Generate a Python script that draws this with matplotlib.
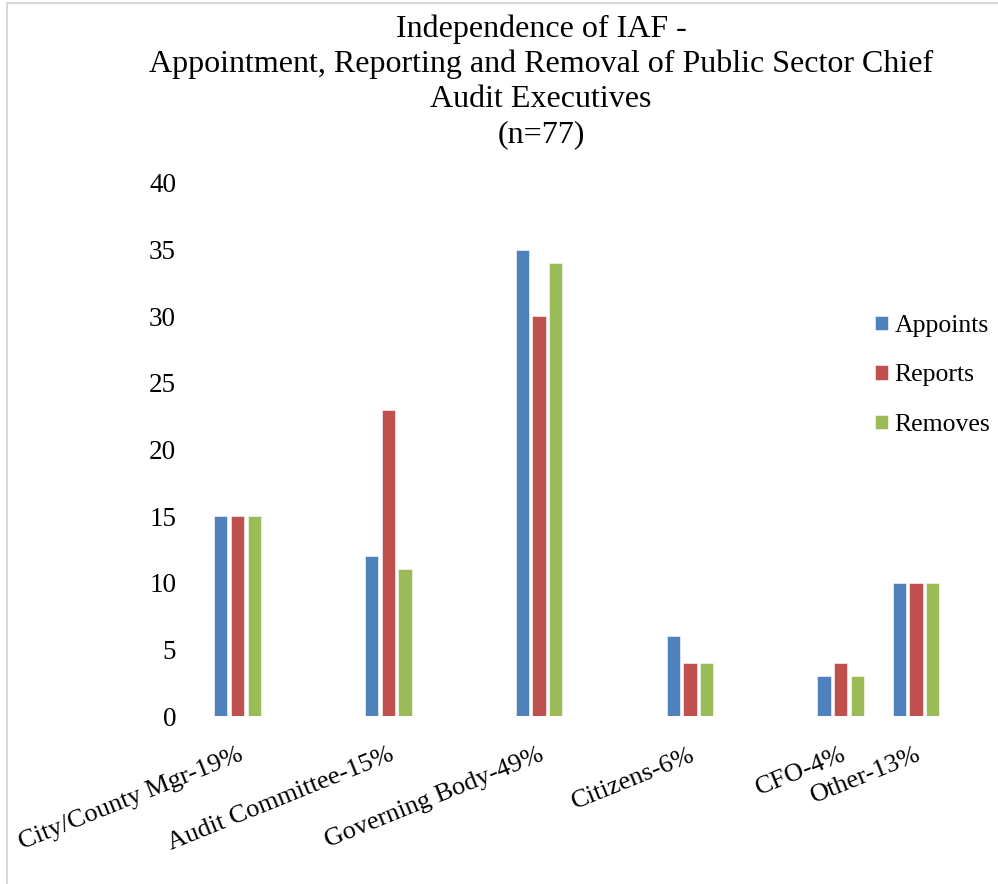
import numpy as np
import matplotlib
matplotlib.use('Agg')
import matplotlib.pyplot as plt
from matplotlib.lines import Line2D

plt.rcParams['font.family']=['Liberation Serif','DejaVu Serif']

categories=['City/County Mgr-19%','Audit Committee-15%','Governing Body-49%','Citizens-6%','CFO-4%','Other-13%']
appoints=[15,12,35,6,3,10]
reports=[15,23,30,4,4,10]
removes=[15,11,34,4,3,10]
series=['Appoints','Reports','Removes']
colors=['#4F81BD','#C0504D','#9BBB59']

# group centres along the category axis (the last two groups sit closer in the original)
xpos=np.array([0,1,2,3,4,4.5])
bw=0.088; step=0.111

W,H=998,884
fig=plt.figure(figsize=(W/100,H/100),dpi=100)
# chart border (left and top edges are visible in the original)
fig.add_artist(Line2D([7/W,7/W],[0,1-3/H],color='#d9d9d9',lw=1.5))
fig.add_artist(Line2D([7/W,1],[1-3/H,1-3/H],color='#d9d9d9',lw=1.5))

left,right,bot,top=190,990,716,183
ax=fig.add_axes([left/W,1-bot/H,(right-left)/W,(bot-top)/H])
unit=150.8; x0=237.5
ax.set_xlim((left-x0)/unit,(right-x0)/unit)
ax.set_ylim(0,40)

handles=[]
for i,(vals,name,c) in enumerate(zip([appoints,reports,removes],series,colors)):
    b=ax.bar(xpos+(i-1)*step,vals,width=bw,color=c,edgecolor='white',linewidth=0.4,label=name)
    handles.append(b)

for s in ax.spines.values(): s.set_visible(False)
ax.set_yticks(range(0,41,5))
ax.tick_params(axis='y',length=0,pad=10,labelsize=19.5)
ax.set_xticks(xpos)
ax.set_xticklabels(categories,rotation=22,ha='right',va='top',rotation_mode='anchor',fontsize=19)
ax.tick_params(axis='x',length=0,pad=20)

fig.text(541/W,1-14/H,'Independence of IAF -\nAppointment, Reporting and Removal of Public Sector Chief\nAudit Executives\n(n=77)',
         ha='center',va='top',fontsize=23,linespacing=1.28)

leg=ax.legend(handles=handles,loc='upper left',bbox_to_anchor=(875/W,1-315/H),bbox_transform=fig.transFigure,
              frameon=False,fontsize=18.5,handlelength=0.5,handleheight=0.5,handletextpad=0.25,labelspacing=1.07,
              borderpad=0,borderaxespad=0)

fig.savefig('out.png',dpi=100)
